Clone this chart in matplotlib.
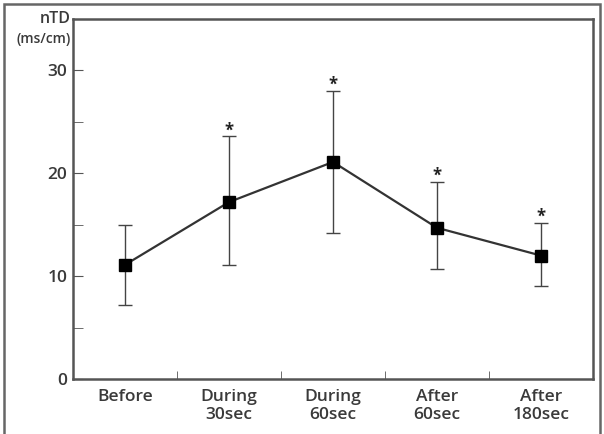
import numpy as np
import matplotlib
matplotlib.use('Agg')
import matplotlib.pyplot as plt
from matplotlib.patches import Rectangle

# data
labels = ['Before', 'During\n30sec', 'During\n60sec', 'After\n60sec', 'After\n180sec']
mean = [11.1, 17.2, 21.1, 14.7, 12.0]
upper = [15.0, 23.6, 28.0, 19.2, 15.2]
lower = [7.2, 11.1, 14.2, 10.7, 9.0]
signif = [False, True, True, True, True]

plt.rcParams['font.family'] = ['Open Sans', 'DejaVu Sans']

fig = plt.figure(figsize=(6.04, 4.34), dpi=100)
ax = fig.add_axes([73/604, 55/434, 520/604, 360/434])

x = np.arange(len(mean))
mean = np.array(mean)
yerr = [mean - np.array(lower), np.array(upper) - mean]
ax.errorbar(x, mean, yerr=yerr, fmt='none', ecolor='#444444', elinewidth=1.0,
            capsize=5, capthick=1.0)
ax.plot(x, mean, color='#333333', lw=1.6, marker='s', ms=8.5,
        mfc='black', mec='black')

for xi, up, s in zip(x, upper, signif):
    if s:
        ax.text(xi, up + 0.1, '*', ha='center', va='baseline', fontsize=12,
                fontweight='bold', color='#222222')

ax.set_xlim(-0.5, 4.5)
ax.set_ylim(0, 35)
ax.set_yticks([0, 10, 20, 30])
ax.set_yticks([5, 15, 25], minor=True)
ax.set_xticks(x)
ax.set_xticklabels(labels, fontsize=12.5, linespacing=1.15, fontweight='semibold',
                   color='#3a3a3a')
ax.set_xticks(x[:-1] + 0.5, minor=True)
ax.tick_params(axis='x', which='major', length=0, pad=7)
ax.tick_params(axis='x', which='minor', direction='in', length=6, color='#555555')
ax.tick_params(axis='y', which='both', direction='in', length=7, color='#555555',
               labelsize=12.5, pad=4, labelcolor='#3a3a3a')
for lb in ax.get_yticklabels():
    lb.set_fontweight('semibold')
for sp in ax.spines.values():
    sp.set_color('#555555')
    sp.set_linewidth(1.8)

ax.text(-0.005, 1.0, 'nTD', transform=ax.transAxes, ha='right', va='center',
        fontsize=11.5, fontweight='semibold', color='#3a3a3a')
ax.text(-0.005, 0.945, '(ms/cm)', transform=ax.transAxes, ha='right', va='center',
        fontsize=10, fontweight='semibold', color='#3a3a3a')

# outer frame around the figure
fig.patches.append(Rectangle((4/604, -0.02), 596/604, 1 - 4/434 + 0.02,
                             transform=fig.transFigure, fill=False,
                             edgecolor='#666666', lw=1.8))

fig.savefig('out.png', dpi=100)
